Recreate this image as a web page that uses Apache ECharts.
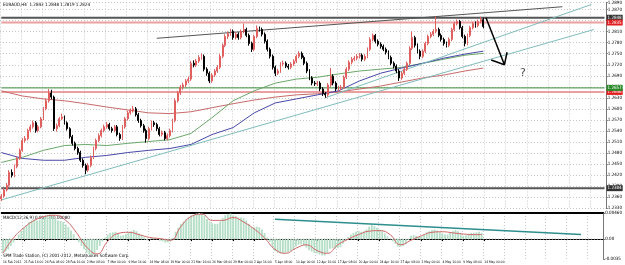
<!DOCTYPE html>
<html>
<head>
<meta charset="utf-8">
<script src="https://cdn.jsdelivr.net/npm/echarts@6/dist/echarts.min.js"></script>
<style>
  html, body { margin: 0; padding: 0; background: #fff; }
  #chart { width: 625px; height: 265px; }
</style>
</head>
<body>
<div id="chart"></div>
<script>
// EURAUD H4 - candles (merged pairs of bars)
var firstOpen = 1.2355;
var closes = [
  1.2362,1.2379,1.2392,1.2427,1.2419,1.2443,1.2465,1.2487,1.2514,1.2519,
  1.2541,1.2551,1.2562,1.2541,1.2551,1.2573,1.2600,1.2622,1.2643,1.2632,
  1.2546,1.2554,1.2573,1.2578,1.2562,1.2546,1.2524,1.2506,1.2492,1.2481,
  1.2460,1.2446,1.2433,1.2446,1.2468,1.2492,1.2514,1.2527,1.2541,1.2551,
  1.2557,1.2546,1.2541,1.2551,1.2530,1.2519,1.2551,1.2573,1.2589,1.2595,
  1.2600,1.2584,1.2568,1.2554,1.2541,1.2519,1.2546,1.2562,1.2557,1.2546,
  1.2530,1.2535,1.2519,1.2527,1.2541,1.2568,1.2622,1.2643,1.2659,1.2665,
  1.2676,1.2681,1.2724,1.2719,1.2730,1.2740,1.2743,1.2708,1.2697,1.2676,
  1.2692,1.2703,1.2713,1.2743,1.2773,1.2797,1.2805,1.2811,1.2794,1.2803,
  1.2794,1.2811,1.2816,1.2800,1.2778,1.2762,1.2797,1.2819,1.2816,1.2803,
  1.2784,1.2762,1.2743,1.2713,1.2697,1.2703,1.2722,1.2724,1.2716,1.2713,
  1.2722,1.2730,1.2743,1.2751,1.2740,1.2724,1.2703,1.2684,1.2670,1.2668,
  1.2670,1.2654,1.2641,1.2638,1.2665,1.2689,1.2670,1.2654,1.2657,1.2659,
  1.2686,1.2708,1.2727,1.2735,1.2738,1.2743,1.2746,1.2735,1.2743,1.2762,
  1.2789,1.2800,1.2784,1.2776,1.2770,1.2762,1.2754,1.2740,1.2724,1.2716,
  1.2703,1.2684,1.2697,1.2708,1.2724,1.2765,1.2794,1.2773,1.2757,1.2743,
  1.2757,1.2778,1.2797,1.2803,1.2811,1.2816,1.2800,1.2789,1.2778,1.2773,
  1.2789,1.2816,1.2832,1.2838,1.2821,1.2797,1.2778,1.2800,1.2821,1.2832,
  1.2827,1.2838,1.2843,1.2824
];
var highs = [
  1.2368,1.2384,1.2398,1.2433,1.2435,1.2448,1.2470,1.2492,1.2520,1.2526,
  1.2546,1.2557,1.2568,1.2567,1.2556,1.2578,1.2605,1.2628,1.2654,1.2652,
  1.2636,1.2560,1.2578,1.2587,1.2582,1.2566,1.2550,1.2529,1.2511,1.2497,
  1.2486,1.2465,1.2451,1.2452,1.2473,1.2497,1.2519,1.2533,1.2546,1.2557,
  1.2564,1.2562,1.2551,1.2556,1.2556,1.2535,1.2556,1.2578,1.2595,1.2601,
  1.2608,1.2605,1.2589,1.2573,1.2559,1.2546,1.2551,1.2568,1.2567,1.2562,
  1.2551,1.2541,1.2540,1.2533,1.2546,1.2573,1.2628,1.2649,1.2665,1.2671,
  1.2681,1.2688,1.2730,1.2732,1.2736,1.2746,1.2751,1.2748,1.2713,1.2702,
  1.2697,1.2708,1.2719,1.2749,1.2778,1.2803,1.2811,1.2818,1.2816,1.2809,
  1.2808,1.2816,1.2832,1.2821,1.2805,1.2783,1.2802,1.2827,1.2824,1.2821,
  1.2808,1.2789,1.2767,1.2748,1.2718,1.2709,1.2727,1.2731,1.2729,1.2722,
  1.2727,1.2735,1.2748,1.2757,1.2756,1.2745,1.2729,1.2708,1.2689,1.2676,
  1.2676,1.2675,1.2659,1.2646,1.2670,1.2711,1.2694,1.2675,1.2663,1.2665,
  1.2691,1.2713,1.2732,1.2741,1.2744,1.2749,1.2752,1.2751,1.2749,1.2767,
  1.2795,1.2805,1.2804,1.2789,1.2781,1.2775,1.2767,1.2759,1.2745,1.2729,
  1.2721,1.2708,1.2702,1.2713,1.2729,1.2770,1.2811,1.2799,1.2778,1.2762,
  1.2762,1.2783,1.2802,1.2809,1.2817,1.2851,1.2821,1.2805,1.2794,1.2783,
  1.2794,1.2821,1.2837,1.2843,1.2842,1.2826,1.2802,1.2805,1.2826,1.2837,
  1.2838,1.2843,1.2851,1.2848
];
var lows = [
  1.2349,1.2358,1.2375,1.2388,1.2413,1.2414,1.2438,1.2461,1.2483,1.2508,
  1.2514,1.2536,1.2546,1.2535,1.2536,1.2547,1.2569,1.2596,1.2617,1.2626,
  1.2540,1.2538,1.2550,1.2569,1.2557,1.2541,1.2519,1.2500,1.2487,1.2475,
  1.2455,1.2440,1.2422,1.2428,1.2441,1.2463,1.2487,1.2509,1.2522,1.2536,
  1.2546,1.2541,1.2535,1.2536,1.2525,1.2513,1.2515,1.2546,1.2568,1.2584,
  1.2590,1.2579,1.2562,1.2549,1.2535,1.2508,1.2514,1.2541,1.2551,1.2540,
  1.2525,1.2525,1.2514,1.2514,1.2522,1.2536,1.2563,1.2617,1.2638,1.2652,
  1.2659,1.2670,1.2676,1.2713,1.2714,1.2725,1.2734,1.2702,1.2690,1.2670,
  1.2671,1.2687,1.2698,1.2708,1.2738,1.2768,1.2790,1.2799,1.2788,1.2789,
  1.2788,1.2789,1.2806,1.2795,1.2772,1.2755,1.2757,1.2792,1.2810,1.2797,
  1.2778,1.2756,1.2737,1.2707,1.2689,1.2692,1.2698,1.2716,1.2711,1.2707,
  1.2708,1.2717,1.2725,1.2738,1.2735,1.2719,1.2697,1.2678,1.2664,1.2662,
  1.2662,1.2648,1.2635,1.2630,1.2633,1.2660,1.2664,1.2648,1.2649,1.2651,
  1.2654,1.2681,1.2703,1.2721,1.2730,1.2732,1.2737,1.2729,1.2730,1.2738,
  1.2757,1.2784,1.2778,1.2770,1.2764,1.2757,1.2748,1.2735,1.2719,1.2710,
  1.2697,1.2676,1.2679,1.2692,1.2703,1.2719,1.2760,1.2767,1.2751,1.2735,
  1.2738,1.2752,1.2773,1.2792,1.2798,1.2806,1.2795,1.2783,1.2772,1.2767,
  1.2768,1.2784,1.2811,1.2827,1.2816,1.2792,1.2770,1.2773,1.2795,1.2816,
  1.2821,1.2822,1.2833,1.2819
];

// moving averages, [bar, price]
var maRed = [[0,1.2649],[8,1.2635],[16,1.2627],[24,1.2622],[32,1.2614],[40,1.2605],[48,1.2597],[56,1.2589],
  [64,1.2587],[72,1.2592],[80,1.2603],[88,1.2614],[96,1.2624],[104,1.2632],[112,1.2638],[120,1.2641],
  [128,1.2646],[136,1.2654],[144,1.2662],[152,1.2673],[160,1.2684],[168,1.2692],[176,1.2703],[183,1.2711]];
var maGreen = [[0,1.2454],[8,1.2468],[16,1.2487],[24,1.2500],[32,1.2503],[40,1.2500],[48,1.2506],[56,1.2511],
  [64,1.2516],[72,1.2533],[80,1.2576],[88,1.2622],[96,1.2649],[104,1.2670],[112,1.2681],[120,1.2686],
  [128,1.2695],[136,1.2703],[144,1.2708],[152,1.2713],[160,1.2724],[168,1.2735],[176,1.2746],[183,1.2751]];
var maBlue = [[0,1.2481],[8,1.2465],[16,1.2460],[24,1.2460],[32,1.2468],[40,1.2473],[48,1.2481],[56,1.2487],
  [64,1.2492],[72,1.2503],[80,1.2530],[88,1.2549],[96,1.2589],[104,1.2616],[112,1.2627],[120,1.2638],
  [128,1.2649],[136,1.2676],[144,1.2697],[152,1.2711],[160,1.2724],[168,1.2738],[176,1.2749],[183,1.2757]];

// MACD(12,26,9)
var macdMain = [
  -0.0024,-0.0022,-0.0018,-0.0012,-0.0006,0.0000,0.0008,0.0014,0.0020,0.0025,
  0.0030,0.0033,0.0035,0.0033,0.0034,0.0036,0.0039,0.0042,0.0044,0.0043,
  0.0036,0.0033,0.0032,0.0030,0.0026,0.0021,0.0015,0.0009,0.0002,-0.0005,
  -0.0012,-0.0018,-0.0024,-0.0027,-0.0028,-0.0025,-0.0019,-0.0012,-0.0004,0.0003,
  0.0008,0.0011,0.0012,0.0013,0.0010,0.0006,0.0007,0.0009,0.0012,0.0014,
  0.0016,0.0014,0.0010,0.0007,0.0003,-0.0002,0.0000,0.0002,0.0002,0.0000,
  -0.0003,-0.0004,-0.0006,-0.0006,-0.0004,0.0002,0.0013,0.0020,0.0027,0.0031,
  0.0035,0.0038,0.0042,0.0043,0.0045,0.0046,0.0045,0.0041,0.0036,0.0031,
  0.0028,0.0027,0.0027,0.0031,0.0037,0.0042,0.0044,0.0045,0.0042,0.0041,
  0.0038,0.0038,0.0037,0.0033,0.0027,0.0021,0.0021,0.0022,0.0021,0.0017,
  0.0011,0.0003,-0.0005,-0.0014,-0.0021,-0.0024,-0.0025,-0.0025,-0.0024,-0.0023,
  -0.0021,-0.0018,-0.0013,-0.0010,-0.0009,-0.0011,-0.0015,-0.0019,-0.0022,-0.0024,
  -0.0025,-0.0027,-0.0029,-0.0029,-0.0024,-0.0017,-0.0016,-0.0017,-0.0016,-0.0014,
  -0.0008,-0.0002,0.0004,0.0008,0.0011,0.0013,0.0014,0.0013,0.0014,0.0017,
  0.0022,0.0025,0.0023,0.0020,0.0017,0.0014,0.0010,0.0005,0.0000,-0.0004,
  -0.0008,-0.0013,-0.0013,-0.0012,-0.0009,-0.0002,0.0006,0.0007,0.0006,0.0004,
  0.0005,0.0008,0.0012,0.0014,0.0016,0.0017,0.0015,0.0013,0.0010,0.0008,
  0.0008,0.0011,0.0014,0.0016,0.0014,0.0010,0.0006,0.0007,0.0009,0.0011,
  0.0011,0.0012,0.0013,0.0011
];
var macdSignal = [[0,-0.0025],[4,0.0002],[8,0.0020],[12,0.0033],[16,0.0040],[20,0.0042],[24,0.0033],[28,0.0012],
  [32,-0.0014],[36,-0.0026],[40,-0.0004],[44,0.0010],[48,0.0012],[52,0.0008],[56,0.0003],[60,0.0001],
  [64,-0.0002],[68,0.0022],[72,0.0040],[76,0.0044],[80,0.0033],[84,0.0033],[88,0.0038],[92,0.0030],
  [96,0.0018],[100,0.0002],[104,-0.0018],[108,-0.0025],[112,-0.0016],[116,-0.0010],[120,-0.0020],[124,-0.0025],
  [128,-0.0010],[132,0.0000],[136,0.0008],[140,0.0014],[144,0.0015],[148,0.0008],[152,-0.0010],[156,-0.0002],
  [160,0.0006],[164,0.0012],[168,0.0013],[172,0.0011],[176,0.0009],[180,0.0008],[183,0.0008]];

// drawn objects
var levelDark = [1.2848, 1.2384];
var levelRed = [1.2835, 1.2646];
var levelGreen = [1.2657];
var channelTop = [[59,1.2792],[213,1.2878]];
var trendLong = [[0,1.2352],[225,1.2816]];
var trendShort = [[123,1.2630],[224,1.2884]];
var arrowShaft = [[184,1.2848],[191,1.2720]];
var arrowHeadL = [[186,1.2733],[191,1.2720]];
var arrowHeadR = [[192,1.2754],[191,1.2720]];
var questionAt = [[198,1.2697]];
var macdTrend = [[104,0.0035],[221,0.0008]];

var tickLabels = ['16 Feb 2012','21 Feb 16:00','24 Feb 08:00','28 Feb 16:00','2 Mar 08:00','7 Mar 00:00',
  '9 Mar 16:00','14 Mar 08:00','19 Mar 00:00','21 Mar 16:00','26 Mar 08:00','29 Mar 00:00','2 Apr 16:00',
  '5 Apr 08:00','10 Apr 00:00','12 Apr 16:00','17 Apr 08:00','20 Apr 00:00','24 Apr 16:00','27 Apr 08:00',
  '2 May 00:00','4 May 16:00','9 May 08:00','14 May 00:00'];
var barsPerLabel = 8;
var totalBars = 230;

var cats = [];
for (var i = 0; i < totalBars; i++) cats.push(String(i));
var ohlc = closes.map(function (c, i) {
  return [i === 0 ? firstOpen : closes[i - 1], c, lows[i], highs[i]];
});

var font = "'Liberation Sans Narrow', 'DejaVu Sans Condensed', sans-serif";
var gridLine = { show: true, lineStyle: { color: '#c8c8c8', type: [1, 2], width: 1 } };
function onGrid(idx) { return idx % barsPerLabel === 0; }
function hasLabel(idx) { return onGrid(idx) && idx / barsPerLabel < tickLabels.length; }

function seg(data, color, width, z) {
  return {
    type: 'line', xAxisIndex: 0, yAxisIndex: 0, data: data, symbol: 'none', z: z || 4,
    lineStyle: { color: color, width: width }, silent: true
  };
}
// horizontal price level across the whole pane, with its price box on the axis
function level(v, color, width, boxColor) {
  var s = seg([[0, v], [totalBars - 1, v]], color, width, 2);
  s.endLabel = {
    show: true, distance: 2, formatter: v.toFixed(4), color: '#fff', backgroundColor: boxColor,
    fontSize: 4.5, fontFamily: font, padding: [1, 1, 0, 1]
  };
  return s;
}

var series = [
  { type: 'candlestick', xAxisIndex: 0, yAxisIndex: 0, data: ohlc, barWidth: 1.4, z: 5, silent: true,
    itemStyle: { color: '#f08a8a', color0: '#000', borderColor: '#e06060', borderColor0: '#000', borderWidth: 1 } },
  seg(maRed, '#c86a6a', 1, 3),
  seg(maGreen, '#6aa86a', 1, 3),
  seg(maBlue, '#4848a8', 1, 3),
  seg(channelTop, '#555', 1, 4),
  seg(trendLong, '#7fbcbc', 1, 4),
  seg(trendShort, '#7fbcbc', 1, 4),
  seg(arrowShaft, '#000', 1.5, 6),
  seg(arrowHeadL, '#000', 1.5, 6),
  seg(arrowHeadR, '#000', 1.5, 6),
  { type: 'scatter', xAxisIndex: 0, yAxisIndex: 0, data: questionAt, symbolSize: 0, silent: true,
    label: { show: true, formatter: '?', position: 'inside', fontSize: 11, fontFamily: 'DejaVu Sans', color: '#222' } },
  { type: 'bar', xAxisIndex: 1, yAxisIndex: 1, data: macdMain, barWidth: 1.8, silent: true,
    itemStyle: { color: '#b4dec6' } },
  { type: 'line', xAxisIndex: 1, yAxisIndex: 1, data: [[0, 0], [totalBars - 1, 0]], symbol: 'none', silent: true,
    lineStyle: { color: '#b0b0b0', type: [1, 2], width: 1 }, z: 1 },
  { type: 'line', xAxisIndex: 1, yAxisIndex: 1, data: macdSignal, smooth: true, symbol: 'none', silent: true,
    lineStyle: { color: '#d06868', width: 1 } },
  { type: 'line', xAxisIndex: 1, yAxisIndex: 1, data: macdTrend, symbol: 'none', silent: true,
    lineStyle: { color: '#2e8e8e', width: 1.5 } }
];
levelDark.forEach(function (v) { series.push(level(v, '#555', 2, '#333')); });
levelRed.forEach(function (v) { series.push(level(v, '#eaa0a0', 2, '#e02020')); });
levelGreen.forEach(function (v) { series.push(level(v, '#3c8c3c', 1, '#2a8a2a')); });

var chart = echarts.init(document.getElementById('chart'));
chart.setOption({
  animation: false,
  backgroundColor: '#fff',
  grid: [
    { left: 0, right: 13, top: 1, height: 207 },
    { left: 0, right: 13, top: 213, height: 46 }
  ],
  xAxis: [
    { type: 'category', gridIndex: 0, data: cats, boundaryGap: true,
      axisLine: { show: false }, axisTick: { show: false }, axisLabel: { show: false },
      splitLine: Object.assign({ interval: onGrid }, gridLine) },
    { type: 'category', gridIndex: 1, data: cats, boundaryGap: true, position: 'bottom',
      axisLine: { show: true, lineStyle: { color: '#000', width: 1 } },
      axisTick: { show: true, alignWithLabel: true, length: 2, lineStyle: { color: '#000' }, interval: hasLabel },
      axisLabel: { show: true, fontSize: 3.3, fontFamily: font, color: '#000', align: 'left', margin: 2,
        showMinLabel: true, hideOverlap: false, interval: hasLabel,
        formatter: function (v, idx) { return tickLabels[idx / barsPerLabel] || ''; } },
      splitLine: Object.assign({ interval: onGrid }, gridLine) },
    { type: 'category', gridIndex: 1, data: cats, position: 'top',
      axisLine: { show: true, lineStyle: { color: '#000', width: 2 } },
      axisTick: { show: false }, axisLabel: { show: false } }
  ],
  yAxis: [
    { type: 'value', gridIndex: 0, position: 'right',
      min: 1.2330, max: 1.28895, interval: 0.003,
      axisLine: { show: true, lineStyle: { color: '#777' } },
      axisTick: { show: true, length: 2, lineStyle: { color: '#777' } },
      axisLabel: { fontSize: 4.5, fontFamily: font, color: '#000', margin: 2,
        formatter: function (v) { return v.toFixed(4); } },
      splitLine: gridLine },
    { type: 'value', gridIndex: 1, position: 'right', min: -0.0035, max: 0.0046,
      axisLine: { show: true, lineStyle: { color: '#777' } },
      axisTick: { show: true, length: 2, customValues: [-0.0035, 0, 0.0046] },
      axisLabel: { fontSize: 4.5, fontFamily: font, color: '#000', margin: 2,
        customValues: [-0.0035, 0, 0.0046],
        formatter: function (v) { return v === 0 ? '0.00' : (v > 0 ? v.toFixed(5) : v.toFixed(4)); } },
      splitLine: { show: false } }
  ],
  graphic: [
    { type: 'text', left: 3, top: 2, silent: true,
      style: { text: 'EURAUD,H4  1.2843 1.2848 1.2819 1.2824', font: '4.5px ' + font, fill: '#000' } },
    { type: 'text', left: 3, top: 215, silent: true,
      style: { text: 'MACD(12,26,9) 0.00110 0.00080', font: '4.5px ' + font, fill: '#000' } },
    { type: 'text', left: 3, top: 253, silent: true,
      style: { text: 'SPM Trade Station, (C) 2001-2012, MetaQuotes Software Corp.', font: '4.5px ' + font, fill: '#000' } }
  ],
  series: series
});
</script>
</body>
</html>
